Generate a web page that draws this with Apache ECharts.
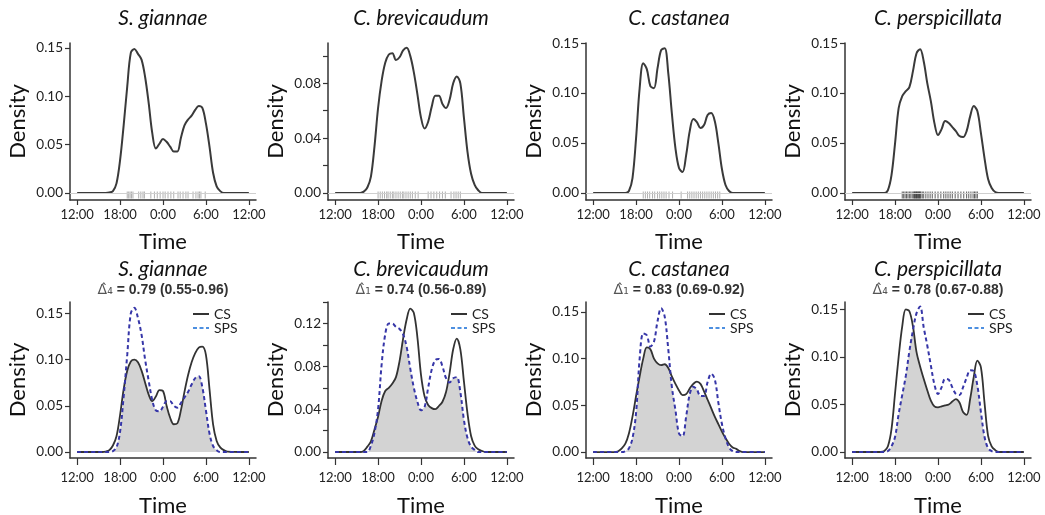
<!DOCTYPE html>
<html><head><meta charset="utf-8">
<script src="https://cdn.jsdelivr.net/npm/echarts@6/dist/echarts.min.js"></script>
<style>html,body{margin:0;padding:0;background:#fff}#c{width:1045px;height:515px}</style>
</head><body><div id="c"></div>
<script>
// x = hours after 12:00 (0 = 12:00, 12 = 0:00, 24 = 12:00)
const hours = [0,3,3.5,4,4.5,5,5.5,6,6.5,7,7.5,8,8.5,9,9.5,10,10.5,11,11.5,12,12.5,13,13.5,14,14.5,15,15.5,16,16.5,17,17.5,18,18.5,19,19.5,20,20.5,21,24];
const timeTickValues = [0,6,12,18,24];
const timeTickLabels = ['12:00','18:00','0:00','6:00','12:00'];
const species = ['S. giannae','C. brevicaudum','C. castanea','C. perspicillata'];
const deltaSub = ['\u2084','\u2081','\u2081','\u2084'];
const deltaText = ['0.79 (0.55-0.96)','0.74 (0.56-0.89)','0.83 (0.69-0.92)','0.78 (0.67-0.88)'];

// top row: overall activity density
const densGiannae = [0,0,0,0,0.0005,0.002,0.01,0.034,0.07,0.11,0.145,0.149,0.144,0.138,0.12,0.093,0.062,0.046,0.051,0.056,0.053,0.048,0.043,0.043,0.057,0.07,0.076,0.08,0.086,0.09,0.088,0.072,0.048,0.021,0.007,0.002,0,0,0];
const densBrevicaudum = [0,0,0,0.001,0.004,0.012,0.034,0.062,0.082,0.095,0.101,0.102,0.097,0.099,0.104,0.106,0.1,0.088,0.072,0.055,0.047,0.052,0.063,0.071,0.071,0.065,0.062,0.068,0.08,0.085,0.08,0.055,0.03,0.014,0.006,0.002,0,0,0];
const densCastanea = [0,0,0,0,0,0.002,0.015,0.055,0.105,0.13,0.124,0.107,0.105,0.125,0.143,0.145,0.12,0.08,0.045,0.025,0.021,0.038,0.062,0.074,0.071,0.065,0.068,0.078,0.08,0.072,0.05,0.024,0.008,0.002,0,0,0,0,0];
const densPerspicillata = [0,0,0,0,0,0.003,0.018,0.05,0.085,0.097,0.102,0.106,0.122,0.14,0.144,0.132,0.11,0.092,0.07,0.058,0.064,0.072,0.07,0.066,0.062,0.057,0.056,0.062,0.077,0.087,0.082,0.06,0.035,0.014,0.005,0.001,0,0,0];

// rug (observation times)
const rugGiannae = [7.0,7.2,7.4,7.6,7.8,8.6,8.9,9.2,9.4,10.3,10.8,11.2,11.6,12.0,12.3,12.7,13.1,13.5,14.1,14.4,14.8,15.2,15.5,16.2,16.6,16.9,17.1,17.3,17.9];
const rugBrevicaudum = [6.0,6.3,6.6,6.9,7.2,7.4,7.7,8.0,8.2,8.5,8.8,9.1,9.4,9.6,9.9,10.2,10.5,10.8,11.2,11.6,13.0,13.4,13.8,14.2,14.6,15.0,15.4,16.2,16.6,16.9,17.2,17.5];
const rugCastanea = [7.0,7.3,7.6,7.9,8.3,8.6,9.0,9.3,9.6,9.9,10.2,10.6,11.1,12.3,13.2,13.5,13.8,14.1,14.4,14.7,15.0,15.3,15.6,15.9,16.2,16.5,16.8,17.1,17.4,17.7];
const rugPerspicillata = [7.0,7.2,7.4,7.6,7.8,8.0,8.2,8.4,8.6,8.7,8.8,8.9,9.0,9.1,9.2,9.3,9.4,9.5,9.6,9.8,10.0,10.3,10.6,10.9,11.2,11.6,12.0,12.4,12.8,13.1,13.4,13.7,14.0,14.4,14.8,15.2,15.6,16.0,16.3,16.6,16.9,17.1,17.3,17.5];

// bottom row: CS vs SPS
const csGiannae = [0,0,0,0.0005,0.002,0.007,0.017,0.04,0.068,0.088,0.098,0.1,0.097,0.088,0.075,0.062,0.055,0.06,0.067,0.066,0.05,0.037,0.03,0.031,0.045,0.065,0.083,0.097,0.107,0.113,0.114,0.105,0.068,0.03,0.012,0.005,0.002,0.0005,0];
const spsGiannae = [0,0,0,0,0,0.001,0.005,0.022,0.06,0.105,0.15,0.156,0.145,0.127,0.1,0.077,0.056,0.045,0.044,0.049,0.055,0.055,0.05,0.048,0.053,0.059,0.065,0.073,0.08,0.082,0.07,0.045,0.02,0.0065,0.002,0,0,0,0];
const csBrevicaudum = [0,0,0,0.001,0.005,0.01,0.021,0.033,0.048,0.057,0.06,0.064,0.07,0.085,0.106,0.124,0.134,0.13,0.107,0.072,0.052,0.044,0.041,0.04,0.043,0.047,0.056,0.074,0.096,0.106,0.096,0.066,0.036,0.015,0.006,0.0025,0.001,0,0];
const spsBrevicaudum = [0,0,0,0,0,0.006,0.018,0.04,0.082,0.11,0.12,0.12,0.117,0.115,0.11,0.098,0.078,0.06,0.047,0.039,0.042,0.06,0.077,0.086,0.087,0.08,0.069,0.065,0.069,0.07,0.056,0.03,0.013,0.005,0.002,0,0,0,0];
const csCastanea = [0,0,0.001,0.004,0.009,0.02,0.038,0.06,0.081,0.1,0.112,0.11,0.1,0.095,0.093,0.094,0.09,0.081,0.073,0.066,0.061,0.062,0.068,0.073,0.0755,0.073,0.065,0.056,0.047,0.038,0.03,0.022,0.015,0.009,0.005,0.0035,0.001,0,0];
const spsCastanea = [0,0,0,0,0.001,0.004,0.015,0.042,0.1,0.127,0.125,0.113,0.118,0.14,0.154,0.145,0.11,0.07,0.045,0.02,0.017,0.038,0.062,0.07,0.067,0.06,0.06,0.075,0.084,0.078,0.053,0.03,0.015,0.005,0.001,0,0,0,0];
const csPerspicillata = [0,0,0,0,0.001,0.006,0.024,0.062,0.1,0.132,0.15,0.148,0.132,0.105,0.09,0.077,0.065,0.054,0.048,0.047,0.048,0.049,0.05,0.053,0.0555,0.052,0.042,0.039,0.056,0.079,0.096,0.089,0.052,0.017,0.006,0.002,0,0,0];
const spsPerspicillata = [0,0,0,0,0,0.001,0.006,0.016,0.04,0.06,0.08,0.106,0.128,0.146,0.153,0.131,0.112,0.091,0.071,0.061,0.068,0.077,0.076,0.068,0.061,0.06,0.068,0.078,0.086,0.085,0.07,0.042,0.016,0.004,0.001,0,0,0,0];

// y-axis ticks & labels
const topYTicks = [[0,0.05,0.10,0.15],[0,0.02,0.04,0.06,0.08,0.10],[0,0.05,0.10,0.15],[0,0.05,0.10,0.15]];
const topYLabels = [[0,0.05,0.10,0.15],[0,0.04,0.08],[0,0.05,0.10,0.15],[0,0.05,0.10,0.15]];
const botYTicks = [[0,0.05,0.10,0.15],[0,0.02,0.04,0.06,0.08,0.10,0.12,0.14],[0,0.05,0.10,0.15],[0,0.05,0.10,0.15]];
const botYLabels = [[0,0.05,0.10,0.15],[0,0.04,0.08,0.12],[0,0.05,0.10,0.15],[0,0.05,0.10,0.15]];
const topYRange = [[-0.0072,0.1552],[-0.0051,0.1094],[-0.007,0.1502],[-0.007,0.1502]];
const botYRange = [[-0.0065,0.1623],[-0.0056,0.1402],[-0.0063,0.1606],[-0.0063,0.1577]];

const topDens = [densGiannae,densBrevicaudum,densCastanea,densPerspicillata];
const topRug = [rugGiannae,rugBrevicaudum,rugCastanea,rugPerspicillata];
const botCS = [csGiannae,csBrevicaudum,csCastanea,csPerspicillata];
const botSPS = [spsGiannae,spsBrevicaudum,spsCastanea,spsPerspicillata];

// layout
const colLeft = [70, 328, 586, 845];
const gridW = 186;
const rowTop = [43, 302];
const rowH = [157, 156];
const FONT = 'Lato';
const ICON_SOLID = 'path://M0,0H16V2H0Z';
const ICON_DASH = 'path://M0,0H4V2H0Z M6.5,0H10.5V2H6.5Z M13,0H16V2H13Z';

const grids=[], xAxes=[], yAxes=[], series=[], titles=[], legends=[];
function pairs(vals){ return hours.map((h,k)=>[h, vals[k]]); }

for (let row=0; row<2; row++){
  for (let c=0; c<4; c++){
    const i = row*4+c;
    grids.push({left:colLeft[c], top:rowTop[row], width:gridW, height:rowH[row], outerBoundsMode:'none', containLabel:false});
    xAxes.push({
      gridIndex:i, type:'value', min:-1, max:25,
      axisLine:{show:true,onZero:false,lineStyle:{color:'#333',width:1.5}},
      axisTick:{show:true,length: row? 7 : 5,customValues:timeTickValues,lineStyle:{color:'#333',width:1.2}},
      axisLabel:{customValues:timeTickValues, formatter:v=>timeTickLabels[timeTickValues.indexOf(Math.round(v))], fontSize:13, color:'#222', margin: row? 13 : 8, fontFamily:FONT},
      splitLine:{show:false},
      name:'Time', nameLocation:'middle', nameGap: row? 37 : 31,
      nameTextStyle:{fontSize:22,color:'#111',fontFamily:FONT}
    });
    const yr = row? botYRange[c] : topYRange[c];
    yAxes.push({
      gridIndex:i, type:'value', min:yr[0], max:yr[1],
      axisLine:{show:true,onZero:false,lineStyle:{color:'#333',width:1.5}},
      axisTick:{show:true,length:5,customValues:(row?botYTicks:topYTicks)[c],lineStyle:{color:'#333',width:1.2}},
      axisLabel:{customValues:(row?botYLabels:topYLabels)[c], formatter:v=>v.toFixed(2), fontSize:13.5, color:'#222', margin:7, fontFamily:FONT},
      splitLine:{show:false},
      name:'Density', nameLocation:'middle', nameRotate:90, nameGap:41,
      nameTextStyle:{fontSize:22,color:'#111',fontFamily:FONT}
    });
    const cx = colLeft[c] + 93;
    titles.push({text:species[c], left:cx, top: row? 259 : 8, textAlign:'center', padding:0,
      textStyle:{fontSize:21,fontStyle:'italic',fontWeight:'normal',color:'#111',fontFamily:FONT}});
    if (row===0){
      series.push({type:'scatter', xAxisIndex:i, yAxisIndex:i, data: topRug[c].map(t=>[t,0]),
        symbol:'rect', symbolSize:[1,7], symbolOffset:[0,2], silent:true,
        itemStyle:{color: c===3 ? 'rgba(20,20,20,0.85)' : 'rgba(90,90,90,0.6)'}, z:1,
        markLine:{silent:true,symbol:'none',label:{show:false},lineStyle:{color:'#cfcfcf',width:1,type:'solid'},data:[{yAxis:0}]}});
      series.push({type:'line', xAxisIndex:i, yAxisIndex:i, data: pairs(topDens[c]), smooth:0.35, symbol:'none',
        lineStyle:{color:'#3a3a3a',width:2}, z:3});
    } else {
      titles.push({text:'{d|\u0394\u0302'+deltaSub[c]+'}{b| = '+deltaText[c]+'}', left:cx, top:283, textAlign:'center', padding:0,
        textStyle:{rich:{
          d:{fontFamily:'DejaVu Sans',fontSize:14,fontWeight:'normal',color:'#555'},
          b:{fontFamily:'Liberation Sans',fontSize:14,fontWeight:'bold',color:'#333'}}}});
      const ov = botCS[c].map((v,k)=>Math.min(v, botSPS[c][k]));
      series.push({type:'line', name:'overlap', xAxisIndex:i, yAxisIndex:i, data: pairs(ov), smooth:0.35, symbol:'none',
        lineStyle:{width:0}, areaStyle:{color:'#d3d3d3',opacity:1}, z:1, silent:true});
      series.push({type:'line', name:'CS', xAxisIndex:i, yAxisIndex:i, data: pairs(botCS[c]), smooth:0.35, symbol:'none',
        itemStyle:{color:'#333'}, lineStyle:{color:'#333',width:1.8}, z:3});
      series.push({type:'line', name:'SPS', xAxisIndex:i, yAxisIndex:i, data: pairs(botSPS[c]), smooth:0.35, symbol:'none',
        itemStyle:{color:'#3636a8'}, lineStyle:{color:'#3636a8',width:2,type:[4,3]}, z:4});
      legends.push({orient:'vertical', left:colLeft[c]+123, top:307, itemWidth:16, itemHeight:2, itemGap:0,
        selectedMode:false, padding:0,
        textStyle:{fontSize:14,color:'#222',fontFamily:FONT, lineHeight:13},
        data:[{name:'CS', icon:ICON_SOLID, itemStyle:{color:'#333'}}, {name:'SPS', icon:ICON_DASH, itemStyle:{color:'#4d8fe0'}}]});
    }
  }
}

const chart = echarts.init(document.getElementById('c'), null, {renderer:'canvas'});
chart.setOption({
  animation:false,
  backgroundColor:'#fff',
  textStyle:{fontFamily:FONT},
  title:titles, legend:legends, grid:grids, xAxis:xAxes, yAxis:yAxes, series:series
});
</script></body></html>
